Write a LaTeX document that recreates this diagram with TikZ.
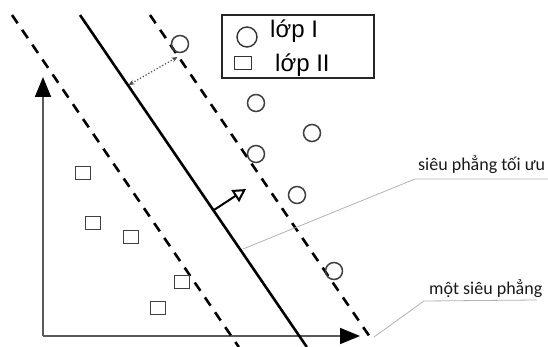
\documentclass[tikz,border=0pt]{standalone}
\usepackage{fontspec}
\setmainfont{Carlito}
\newfontfamily\legfont{Liberation Sans}
\usetikzlibrary{arrows.meta}
\begin{document}
\begin{tikzpicture}[x=1pt,y=-1pt,
  axisline/.style={draw=black!65, line width=1.8pt, -{Triangle[length=20pt,width=16pt,color=black]}},
  hyper/.style={draw=black, line width=2.6pt},
  marginline/.style={draw=black, line width=2.6pt, dash pattern=on 10pt off 8pt},
  clsone/.style={draw=black!75, line width=1.5pt, circle, minimum size=17pt, inner sep=0pt},
  clstwo/.style={draw=black!75, line width=1.6pt, rectangle, minimum width=15pt, minimum height=13pt, inner sep=0pt},
  leader/.style={draw=black!30, line width=0.8pt},
  lab/.style={anchor=base west, inner sep=0pt, text=black!90, font=\fontsize{18}{20}\selectfont},
  legtext/.style={anchor=base west, inner sep=0pt, text=black, font=\legfont\fontsize{24}{26}\selectfont},
  normalarrow/.style={draw=black, line width=2pt, -{Triangle[open, length=13pt, width=14pt, line width=2pt]}},
  gaparrow/.style={draw=black!70, line width=1.2pt, dotted, {Stealth[length=6pt,width=5pt]}-{Stealth[length=6pt,width=5pt]}}
]
\useasboundingbox (0,0) rectangle (548,347);

% axes
\coordinate (o) at (43,336);
\coordinate (ytip) at (43,77);
\coordinate (xtip) at (360,336);
\draw[axisline] (o) -- (ytip);
\draw[axisline] (o) -- (xtip);

% hyperplanes
\coordinate (a1) at (12,15);
\coordinate (a2) at (238.8,347);
\coordinate (s1) at (80,15);
\coordinate (s2) at (306.8,347);
\coordinate (b1) at (150,15);
\coordinate (b2) at (372,340);
\draw[marginline] (a1) -- (a2);
\draw[hyper] (s1) -- (s2);
\draw[marginline] (b1) -- (b2);

% margin arrow
\coordinate (m0) at (128.5,85);
\coordinate (m1) at (177.5,57);
\draw[gaparrow] (m0) -- (m1);

% normal vector
\coordinate (n0) at (214,210);
\coordinate (n1) at (246,189);
\draw[normalarrow] (n0) -- (n1);

% class I
\node[clsone] (c1) at (180,44) {};
\node[clsone] (c2) at (256,103) {};
\node[clsone] (c3) at (312,133) {};
\node[clsone] (c4) at (256,154) {};
\node[clsone] (c5) at (297,195) {};
\node[clsone] (c6) at (334,271) {};

% class II
\node[clstwo] (q1) at (83,173) {};
\node[clstwo] (q2) at (93,223) {};
\node[clstwo] (q3) at (131,237) {};
\node[clstwo] (q4) at (182,282) {};
\node[clstwo] (q5) at (158,308) {};

% legend
\node[draw=black!85, line width=1.2pt, minimum width=152pt, minimum height=63pt, inner sep=0pt] (leg) at (298,46.5) {};
\node[draw=black!80, line width=1.4pt, circle, minimum size=20pt, inner sep=0pt] (lc) at (247,37) {};
\node[draw=black!80, line width=1.4pt, rectangle, minimum width=17pt, minimum height=13pt, inner sep=0pt] (ls) at (243,63) {};
\node[legtext] (lt1) at (270,38) {lớp I};
\node[legtext] (lt2) at (275,72) {lớp II};

% labels
\coordinate (p1) at (243,249);
\coordinate (p2) at (415,179);
\coordinate (p3) at (548,179);
\draw[leader] (p1) -- (p2) -- (p3);
\node[lab] (lab1) at (418,171) {siêu phẳng tối ưu};

\coordinate (r1) at (374,337);
\coordinate (r2) at (424,301);
\coordinate (r3) at (537,300);
\draw[leader] (r1) -- (r2) -- (r3);
\node[lab] (lab2) at (429,294) {một siêu phẳng};
\end{tikzpicture}
\end{document}
